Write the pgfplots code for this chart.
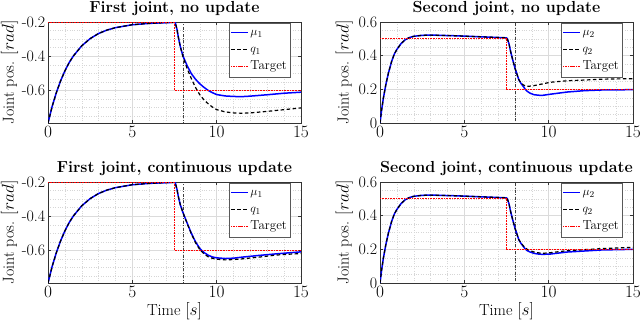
\documentclass[border=0pt]{standalone}
\usepackage{pgfplots}
\pgfplotsset{compat=1.18}
\pgfplotsset{
  myax/.style={
    scale only axis, width=253pt, height=101pt,
    xmin=0, xmax=15, xtick={0,5,10,15},
    minor xtick={1,2,3,4,6,7,8,9,11,12,13,14},
    grid=both,
    major grid style={color=black!14, line width=0.45pt},
    minor grid style={color=black!16, dotted, line width=0.45pt},
    tick align=inside, major tick length=3pt, minor tick length=0pt,
    axis line style={black!80, line width=0.5pt},
    tick style={black!80, line width=0.5pt},
    tick label style={font=\fontsize{16}{19}\selectfont},
    yticklabel style={inner xsep=2.5pt},
    ylabel={Joint pos. $[rad]$},
    every axis x label/.style={at={(axis description cs:0.5,0)}, anchor=base, yshift=-33pt, font=\fontsize{16}{19}\selectfont},
    every axis title/.style={at={(axis description cs:0.5,1)}, anchor=base, yshift=10pt, font=\bfseries\fontsize{16}{19}\selectfont},
    legend cell align=left,
    clip=true,
  },
  lefty/.style={every axis y label/.style={at={(axis description cs:-0.152,0.5)}, rotate=90, anchor=center, font=\fontsize{16}{19}\selectfont}},
  righty/.style={every axis y label/.style={at={(axis description cs:-0.141,0.5)}, rotate=90, anchor=center, font=\fontsize{16}{19}\selectfont}},
}
\begin{document}
\begin{tikzpicture}
\path[use as bounding box] (0,0) rectangle (640pt,-325pt);

% ---------------- Top-left ----------------
\begin{axis}[myax, lefty, at={(48pt,-22pt)}, anchor=north west,
  ymin=-0.79, ymax=-0.2, ytick={-0.6,-0.4,-0.2}, yticklabels={-0.6,-0.4,-0.2},
  minor ytick={-0.75,-0.7,-0.65,-0.55,-0.5,-0.45,-0.35,-0.3,-0.25},
  title={First joint, no update},
  legend style={at={(axis description cs:0.957,0.995)}, anchor=north east,
      font=\fontsize{13}{15}\selectfont, draw=black!65, fill=white, inner sep=1.5pt, row sep=0pt,
      nodes={text height=10pt, text depth=4pt, inner ysep=1.5pt, inner xsep=1.5pt}}]
\addplot[color=black!75, line width=0.6pt, dash pattern=on 3pt off 1.5pt on 0.8pt off 1.5pt, forget plot] coordinates {(8,-1) (8,0)};
\addplot[color=blue, line width=1.5pt] coordinates {
(0,-0.79) (0.25,-0.692) (0.5,-0.611) (0.75,-0.543) (1,-0.486) (1.25,-0.438) (1.5,-0.399)
(2,-0.339) (2.5,-0.297) (3,-0.267) (3.5,-0.247) (4,-0.233) (5,-0.216) (6,-0.208) (7,-0.204) (7.5,-0.202)
(7.55,-0.205) (7.65,-0.245) (7.75,-0.300) (7.85,-0.345) (8.0,-0.398) (8.25,-0.455) (8.5,-0.502)
(8.75,-0.535) (9.0,-0.561) (9.25,-0.582) (9.5,-0.600) (9.75,-0.613) (10,-0.624) (10.5,-0.632)
(11,-0.635) (11.5,-0.636) (12,-0.633) (13,-0.625) (14,-0.616) (15,-0.61)};
\addplot[color=black, line width=1.2pt, dash pattern=on 3.5pt off 2.5pt] coordinates {
(0,-0.79) (0.25,-0.692) (0.5,-0.611) (0.75,-0.543) (1,-0.486) (1.25,-0.438) (1.5,-0.399)
(2,-0.339) (2.5,-0.297) (3,-0.267) (3.5,-0.247) (4,-0.233) (5,-0.216) (6,-0.208) (7,-0.204) (7.5,-0.202)
(7.55,-0.205) (7.65,-0.245) (7.75,-0.300) (7.85,-0.345) (8.0,-0.402) (8.25,-0.472) (8.5,-0.531)
(8.75,-0.583) (9.0,-0.625) (9.25,-0.655) (9.5,-0.678) (9.75,-0.697) (10,-0.712) (10.5,-0.725)
(11,-0.731) (11.5,-0.733) (12,-0.731) (13,-0.722) (14,-0.712) (15,-0.702)};
\addplot[color=red, line width=1pt, dash pattern=on 1pt off 0.6pt] coordinates {(0,-0.2) (7.5,-0.2) (7.5,-0.6) (15,-0.6)};
\legend{$\mu_1$,$q_1$,Target}
\end{axis}

% ---------------- Top-right ----------------
\begin{axis}[myax, righty, at={(380pt,-22pt)}, anchor=north west,
  ymin=0, ymax=0.6, ytick={0,0.2,0.4,0.6}, yticklabels={0,0.2,0.4,0.6},
  minor ytick={0.05,0.1,0.15,0.25,0.3,0.35,0.45,0.5,0.55},
  title={Second joint, no update},
  legend style={at={(axis description cs:0.957,0.995)}, anchor=north east,
      font=\fontsize{13}{15}\selectfont, draw=black!65, fill=white, inner sep=1.5pt, row sep=0pt,
      nodes={text height=10pt, text depth=4pt, inner ysep=1.5pt, inner xsep=1.5pt}}]
\addplot[color=black!75, line width=0.6pt, dash pattern=on 3pt off 1.5pt on 0.8pt off 1.5pt, forget plot] coordinates {(8,-1) (8,1)};
\addplot[color=blue, line width=1.5pt] coordinates {
(0,0) (0.1,0.08) (0.2,0.148) (0.35,0.23) (0.5,0.297) (0.69,0.366) (0.85,0.41) (1.0,0.437)
(1.25,0.472) (1.5,0.495) (1.75,0.508) (2.0,0.515) (2.5,0.521) (3.0,0.522) (3.5,0.521) (4.5,0.518)
(5.5,0.514) (6.5,0.51) (7.0,0.508) (7.5,0.506)
(7.55,0.500) (7.65,0.47) (7.74,0.426) (7.87,0.375) (8.0,0.327) (8.12,0.29) (8.23,0.257) (8.36,0.235) (8.49,0.218)
(8.6,0.202) (8.73,0.188) (8.9,0.177) (9.13,0.168) (9.4,0.165) (9.62,0.164) (10.1,0.171) (11.1,0.184)
(12.1,0.192) (13.1,0.196) (14,0.197) (15,0.198)};
\addplot[color=black, line width=1.2pt, dash pattern=on 3.5pt off 2.5pt] coordinates {
(0,0) (0.1,0.08) (0.2,0.148) (0.35,0.23) (0.5,0.297) (0.69,0.366) (0.85,0.41) (1.0,0.437)
(1.25,0.472) (1.5,0.495) (1.75,0.508) (2.0,0.515) (2.5,0.521) (3.0,0.522) (3.5,0.521) (4.5,0.518)
(5.5,0.514) (6.5,0.51) (7.0,0.508) (7.5,0.506)
(7.55,0.500) (7.65,0.47) (7.74,0.426) (7.87,0.375) (8.0,0.327) (8.12,0.29) (8.23,0.258) (8.36,0.236) (8.49,0.227)
(8.6,0.221) (8.73,0.218) (8.9,0.219) (9.13,0.222) (9.62,0.232) (10.1,0.242) (11.1,0.251)
(12.1,0.255) (13.1,0.26) (14,0.262) (15,0.263)};
\addplot[color=red, line width=1pt, dash pattern=on 1pt off 0.6pt] coordinates {(0,0.5) (7.5,0.5) (7.5,0.2) (15,0.2)};
\legend{$\mu_2$,$q_2$,Target}
\end{axis}

% ---------------- Bottom-left ----------------
\begin{axis}[myax, lefty, at={(48pt,-182pt)}, anchor=north west,
  ymin=-0.79, ymax=-0.2, ytick={-0.6,-0.4,-0.2}, yticklabels={-0.6,-0.4,-0.2},
  minor ytick={-0.75,-0.7,-0.65,-0.55,-0.5,-0.45,-0.35,-0.3,-0.25},
  xlabel={Time $[s]$},
  title={First joint, continuous update},
  legend style={at={(axis description cs:0.957,0.995)}, anchor=north east,
      font=\fontsize{13}{15}\selectfont, draw=black!65, fill=white, inner sep=1.5pt, row sep=0pt,
      nodes={text height=10pt, text depth=4pt, inner ysep=1.5pt, inner xsep=1.5pt}}]
\addplot[color=black!75, line width=0.6pt, dash pattern=on 3pt off 1.5pt on 0.8pt off 1.5pt, forget plot] coordinates {(8,-1) (8,0)};
\addplot[color=blue, line width=1.5pt] coordinates {
(0,-0.79) (0.25,-0.692) (0.5,-0.611) (0.75,-0.543) (1,-0.486) (1.25,-0.438) (1.5,-0.399)
(2,-0.339) (2.5,-0.297) (3,-0.267) (3.5,-0.247) (4,-0.233) (5,-0.216) (6,-0.208) (7,-0.204) (7.5,-0.202)
(7.55,-0.205) (7.65,-0.245) (7.75,-0.295) (7.85,-0.335) (8.0,-0.378) (8.25,-0.44) (8.5,-0.50)
(8.75,-0.55) (9.0,-0.588) (9.25,-0.612) (9.5,-0.628) (9.75,-0.638) (10,-0.643) (10.5,-0.647)
(11,-0.645) (11.5,-0.639) (12.5,-0.629) (13.5,-0.62) (14.25,-0.614) (15,-0.608)};
\addplot[color=black, line width=1.2pt, dash pattern=on 3.5pt off 2.5pt] coordinates {
(0,-0.79) (0.25,-0.692) (0.5,-0.611) (0.75,-0.543) (1,-0.486) (1.25,-0.438) (1.5,-0.399)
(2,-0.339) (2.5,-0.297) (3,-0.267) (3.5,-0.247) (4,-0.233) (5,-0.216) (6,-0.208) (7,-0.204) (7.5,-0.202)
(7.55,-0.205) (7.65,-0.245) (7.75,-0.295) (7.85,-0.335) (8.0,-0.378) (8.25,-0.442) (8.5,-0.503)
(8.75,-0.555) (9.0,-0.595) (9.25,-0.62) (9.5,-0.637) (9.75,-0.646) (10,-0.651) (10.5,-0.655)
(11,-0.653) (11.5,-0.649) (12.5,-0.639) (13.5,-0.627) (14.25,-0.622) (15,-0.618)};
\addplot[color=red, line width=1pt, dash pattern=on 1pt off 0.6pt] coordinates {(0,-0.2) (7.5,-0.2) (7.5,-0.6) (15,-0.6)};
\legend{$\mu_1$,$q_1$,Target}
\end{axis}

% ---------------- Bottom-right ----------------
\begin{axis}[myax, righty, at={(380pt,-182pt)}, anchor=north west,
  ymin=0, ymax=0.6, ytick={0,0.2,0.4,0.6}, yticklabels={0,0.2,0.4,0.6},
  minor ytick={0.05,0.1,0.15,0.25,0.3,0.35,0.45,0.5,0.55},
  xlabel={Time $[s]$},
  title={Second joint, continuous update},
  legend style={at={(axis description cs:0.957,0.995)}, anchor=north east,
      font=\fontsize{13}{15}\selectfont, draw=black!65, fill=white, inner sep=1.5pt, row sep=0pt,
      nodes={text height=10pt, text depth=4pt, inner ysep=1.5pt, inner xsep=1.5pt}}]
\addplot[color=black!75, line width=0.6pt, dash pattern=on 3pt off 1.5pt on 0.8pt off 1.5pt, forget plot] coordinates {(8,-1) (8,1)};
\addplot[color=blue, line width=1.5pt] coordinates {
(0,0) (0.1,0.08) (0.2,0.148) (0.35,0.23) (0.5,0.297) (0.69,0.366) (0.85,0.41) (1.0,0.437)
(1.25,0.472) (1.5,0.495) (1.75,0.508) (2.0,0.515) (2.5,0.521) (3.0,0.522) (3.5,0.521) (4.5,0.518)
(5.5,0.514) (6.5,0.51) (7.0,0.508) (7.5,0.506)
(7.55,0.500) (7.65,0.47) (7.74,0.426) (7.87,0.375) (8.0,0.327) (8.12,0.29) (8.23,0.257) (8.36,0.235) (8.49,0.218)
(8.6,0.204) (8.73,0.192) (8.9,0.184) (9.13,0.176) (9.4,0.172) (9.62,0.170) (10.1,0.172) (11.1,0.184)
(12.1,0.19) (13.1,0.196) (14,0.198) (15,0.2)};
\addplot[color=black, line width=1.2pt, dash pattern=on 3.5pt off 2.5pt] coordinates {
(0,0) (0.1,0.08) (0.2,0.148) (0.35,0.23) (0.5,0.297) (0.69,0.366) (0.85,0.41) (1.0,0.437)
(1.25,0.472) (1.5,0.495) (1.75,0.508) (2.0,0.515) (2.5,0.521) (3.0,0.522) (3.5,0.521) (4.5,0.518)
(5.5,0.514) (6.5,0.51) (7.0,0.508) (7.5,0.506)
(7.55,0.500) (7.65,0.47) (7.74,0.426) (7.87,0.375) (8.0,0.327) (8.12,0.29) (8.23,0.258) (8.36,0.237) (8.49,0.222)
(8.6,0.21) (8.73,0.2) (8.9,0.192) (9.13,0.184) (9.4,0.179) (9.62,0.176) (10.1,0.18) (11.1,0.192)
(12.1,0.198) (13.1,0.204) (14,0.208) (15,0.212)};
\addplot[color=red, line width=1pt, dash pattern=on 1pt off 0.6pt] coordinates {(0,0.5) (7.5,0.5) (7.5,0.2) (15,0.2)};
\legend{$\mu_2$,$q_2$,Target}
\end{axis}
\end{tikzpicture}
\end{document}
